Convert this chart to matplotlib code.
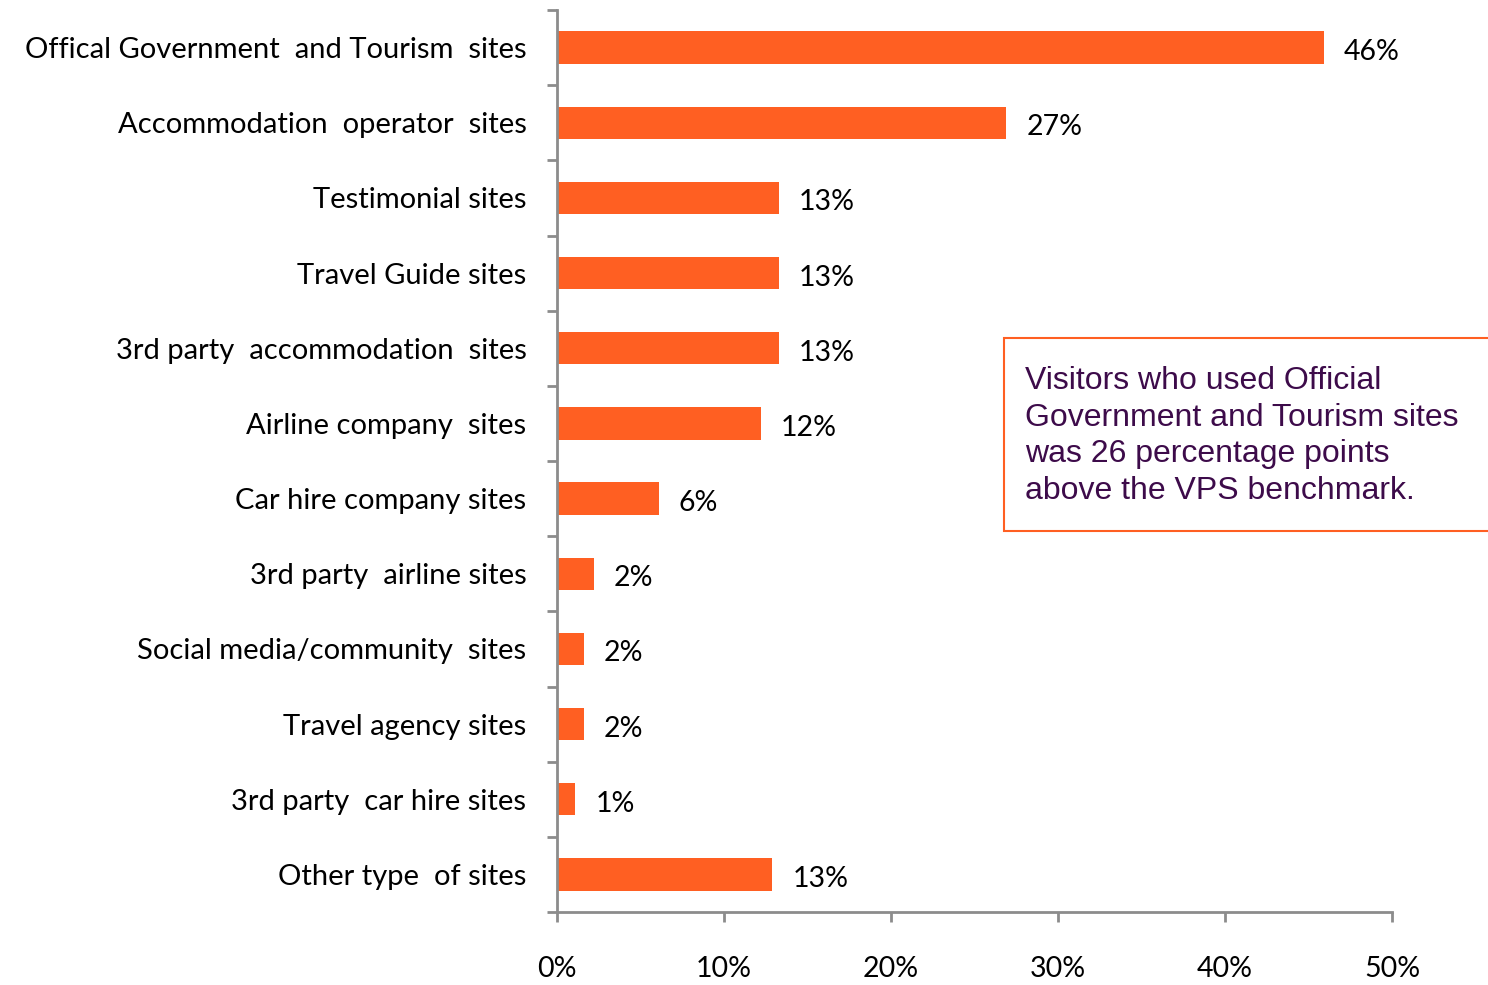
import matplotlib.pyplot as plt
from matplotlib.patches import Rectangle
from matplotlib.ticker import FixedLocator, PercentFormatter

categories = [
    "Offical Government  and Tourism  sites",
    "Accommodation  operator  sites",
    "Testimonial sites",
    "Travel Guide sites",
    "3rd party  accommodation  sites",
    "Airline company  sites",
    "Car hire company sites",
    "3rd party  airline sites",
    "Social media/community  sites",
    "Travel agency sites",
    "3rd party  car hire sites",
    "Other type  of sites",
]
shares = [45.9, 26.9, 13.3, 13.3, 13.3, 12.2, 6.1, 2.2, 1.6, 1.6, 1.1, 12.9]
x_ticks = [0, 10, 20, 30, 40, 50]
note = ("Visitors who used Official\n"
        "Government and Tourism sites\n"
        "was 26 percentage points\n"
        "above the VPS benchmark.")

bar_color = "#FF5F22"
axis_color = "#8C8C8C"
label_font = "Lato"
label_size = 20.5

fig = plt.figure(figsize=(14.88, 9.85), dpi=100)
ax = fig.add_axes([0.3743, 0.0741, 0.5612, 0.9157])

ypos = list(range(len(categories)))
ax.barh(ypos, shares, height=0.43, color=bar_color)
ax.set_ylim(len(categories) - 0.5, -0.5)
ax.set_xlim(0, 50)

for y, v in zip(ypos, shares):
    ax.text(v + 1.2, y + 0.06, f"{round(v)}%", va="center", ha="left",
            fontsize=label_size, family=label_font, color="black")

# category labels at bar centres, tick marks at the boundaries between them
ax.set_yticks(ypos)
ax.set_yticklabels(categories, fontsize=21, family=label_font)
ax.tick_params(axis="y", which="major", length=0, pad=22)
ax.yaxis.set_minor_locator(FixedLocator([i - 0.5 for i in range(len(categories) + 1)]))
ax.tick_params(axis="y", which="minor", length=7, width=2, color=axis_color)

ax.set_xticks(x_ticks)
ax.xaxis.set_major_formatter(PercentFormatter(decimals=0))
ax.tick_params(axis="x", length=7, width=2, color=axis_color, pad=25,
               labelsize=label_size)
for lbl in ax.get_xticklabels():
    lbl.set_family(label_font)

for side in ["top", "right"]:
    ax.spines[side].set_visible(False)
for side in ["left", "bottom"]:
    ax.spines[side].set_color(axis_color)
    ax.spines[side].set_linewidth(2)

# callout box on the right
box = Rectangle((1004 / 1488, 1 - 531 / 985), 0.34, 193 / 985,
                transform=fig.transFigure, facecolor="white",
                edgecolor=bar_color, linewidth=1.5)
fig.patches.append(box)
fig.text(1025 / 1488, 1 - 436 / 985, note, fontsize=23, family="Liberation Sans",
         color="#3D0B4A", va="center", ha="left", linespacing=1.3)

fig.savefig("out.png", dpi=100)
